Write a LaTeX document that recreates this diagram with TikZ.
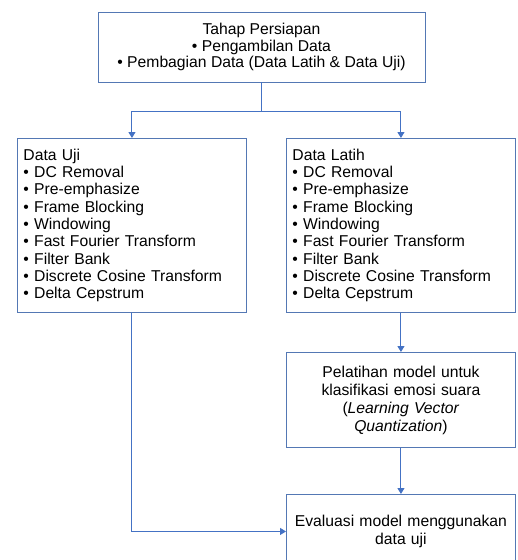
\documentclass[tikz,border=0pt]{standalone}
\usepackage{fontspec}
\setmainfont{Liberation Sans}
\usepackage{tikz}
\usetikzlibrary{arrows.meta, positioning, calc}
\definecolor{cblue}{RGB}{68, 114, 196}
\definecolor{cframe}{RGB}{84, 120, 180}

\tikzset{
  box/.style={draw=cframe, line width=0.9pt, inner sep=6pt, font=\fontsize{15.7}{17.3}\selectfont},
  link/.style={draw=cblue, line width=1pt, -{Triangle[width=7pt,length=6pt]}},
  joint/.style={draw=cblue, line width=1pt}
}

\begin{document}
\begin{tikzpicture}[x=1pt, y=-1pt]
  \useasboundingbox (0,0) rectangle (518,560);
  % preparation
  \node[box, align=center, minimum width=327pt, minimum height=70pt,
    font=\fontsize{15.7}{16.5}\selectfont] (persiapan) at (261.5,47)
    {Tahap Persiapan\\\textbullet{} Pengambilan Data\\\textbullet{} Pembagian Data (Data Latih \& Data Uji)};
  % feature extraction, test and train data
  \node[box, align=left, text width=217pt, minimum height=174pt, anchor=north west] (uji) at (17,138)
    {Data Uji\\\textbullet{} DC Removal\\\textbullet{} Pre-emphasize\\\textbullet{} Frame Blocking\\\textbullet{} Windowing\\\textbullet{} Fast Fourier Transform\\\textbullet{} Filter Bank\\\textbullet{} Discrete Cosine Transform\\\textbullet{} Delta Cepstrum};
  \node[box, align=left, text width=217pt, minimum height=174pt, anchor=north west] (latih) at (286,138)
    {Data Latih\\\textbullet{} DC Removal\\\textbullet{} Pre-emphasize\\\textbullet{} Frame Blocking\\\textbullet{} Windowing\\\textbullet{} Fast Fourier Transform\\\textbullet{} Filter Bank\\\textbullet{} Discrete Cosine Transform\\\textbullet{} Delta Cepstrum};
  % training and evaluation
  \node[box, align=center, text width=217pt, minimum height=95pt, anchor=north west,
    font=\fontsize{15.7}{18}\selectfont] (pelatihan) at (286,352)
    {Pelatihan model untuk\\klasifikasi emosi suara\\(\textit{Learning Vector}\\\textit{Quantization})};
  \node[box, align=center, text width=217pt, minimum height=74pt, anchor=north west] (evaluasi) at (286,494)
    {Evaluasi model menggunakan\\data uji};

  \coordinate (split) at ($(persiapan.south)+(0,29)$);
  \draw[joint] (persiapan.south) -- (split);
  \draw[link] (split) -| (uji.north);
  \draw[link] (split) -| (latih.north);
  \draw[link] (latih) -- (pelatihan);
  \draw[link] (pelatihan) -- (evaluasi);
  \draw[link] (uji.south) |- (evaluasi.west);
\end{tikzpicture}
\end{document}
